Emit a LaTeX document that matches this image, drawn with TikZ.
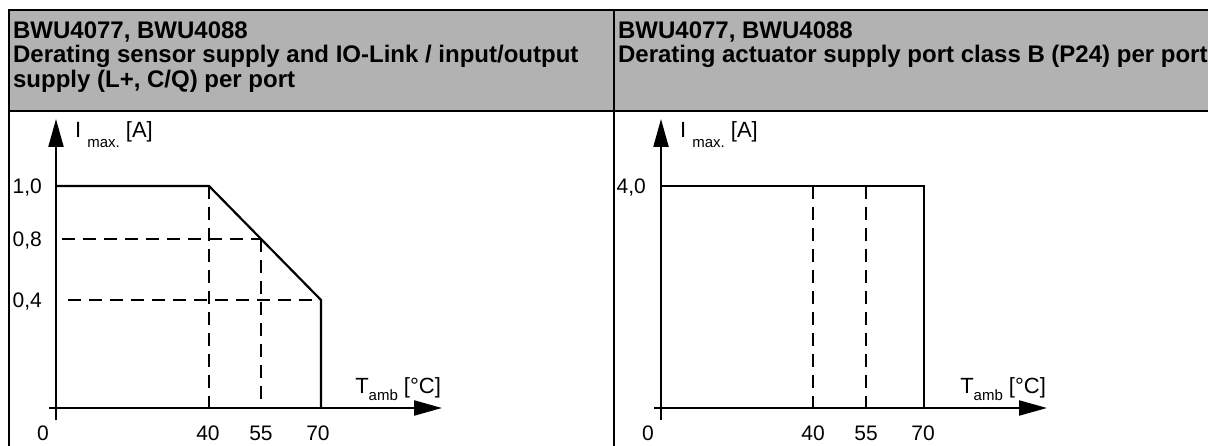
\documentclass[tikz,border=0pt]{standalone}
\usepackage{fontspec}
\setmainfont{Liberation Sans}
\usetikzlibrary{arrows.meta}
\tikzset{
  head/.style={anchor=north west,align=left,inner sep=0pt,
               font=\bfseries\fontsize{24}{24.5}\selectfont},
  ticklab/.style={inner sep=0pt,font=\fontsize{21}{21}\selectfont},
  axislab/.style={inner sep=0pt,font=\fontsize{22}{22}\selectfont},
  guide/.style={dash pattern=on 13pt off 8pt}
}
\newcommand{\lowsub}[2]{\raisebox{-#1}{\fontsize{15}{15}\selectfont #2}}

\begin{document}
\begin{tikzpicture}[x=1pt,y=-1pt,line width=2.2pt,>={Triangle[length=28pt,width=15pt]}]
    \useasboundingbox (0,0) rectangle (1208,446);
    % table frame and header
    \fill[black!30] (9,10) rectangle (1208,111);
    \draw (1208,10) -- (9,10) -- (9,446);
    \draw (9,111) -- (1208,111);
    \draw (614,10) -- (614,446);
    \node[head] (head1) at (12,20.5) {BWU4077, BWU4088\\Derating sensor supply and IO-Link / input/output\\supply (L+, C/Q) per port};
    \node[head] (head2) at (617,20.5) {BWU4077, BWU4088\\Derating actuator supply port class B (P24) per port};

    % left chart
    \draw[->] (49,408) -- (442,408);
    \draw[->] (56,420) -- (56,119);
    \node[axislab,anchor=base west] (ileft) at (74,137.5) {I \lowsub{10pt}{max.} [A]};
    \node[axislab,anchor=base east] (tleft) at (442,393) {T\lowsub{7pt}{amb} [°C]};
    \draw[guide] (209,186) -- (209,408);
    \draw[guide] (261,239) -- (261,408);
    \draw[guide] (62,239) -- (261,239);
    \draw[guide] (68,300) -- (321,300);
    \draw (56,186) -- (209,186) -- (321,300) -- (321,408);
    \node[ticklab,anchor=base east] (y10) at (43,193.5) {1,0};
    \node[ticklab,anchor=base east] (y08) at (43,246.5) {0,8};
    \node[ticklab,anchor=base east] (y04) at (43,307.5) {0,4};
    \node[ticklab,anchor=base] (x0l) at (43,440) {0};
    \node[ticklab,anchor=base] (x40l) at (208,440) {40};
    \node[ticklab,anchor=base] (x55l) at (261,440) {55};
    \node[ticklab,anchor=base] (x70l) at (318,440) {70};

    % right chart
    \draw[->] (654,408) -- (1047,408);
    \draw[->] (661,420) -- (661,119);
    \node[axislab,anchor=base west] (iright) at (679,137.5) {I \lowsub{10pt}{max.} [A]};
    \node[axislab,anchor=base east] (tright) at (1047,393) {T\lowsub{7pt}{amb} [°C]};
    \draw[guide] (813,186) -- (813,408);
    \draw[guide] (866,186) -- (866,408);
    \draw (661,186) -- (924,186) -- (924,408);
    \node[ticklab,anchor=base east] (y40) at (647,193.5) {4,0};
    \node[ticklab,anchor=base] (x0r) at (648,440) {0};
    \node[ticklab,anchor=base] (x40r) at (813,440) {40};
    \node[ticklab,anchor=base] (x55r) at (866,440) {55};
    \node[ticklab,anchor=base] (x70r) at (923,440) {70};
\end{tikzpicture}
\end{document}
